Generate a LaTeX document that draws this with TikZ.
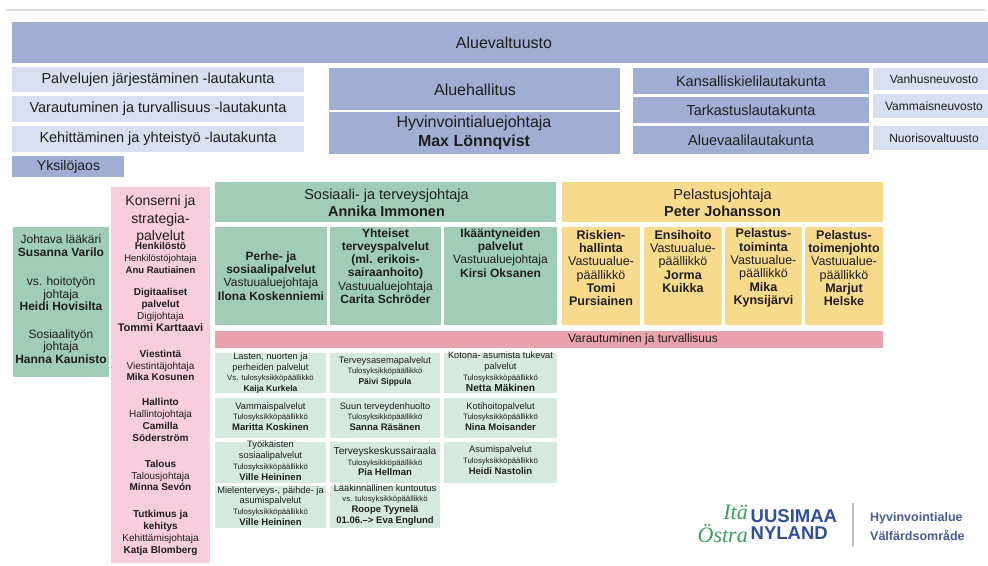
\documentclass[tikz,border=0pt]{standalone}
\usepackage{fontspec}
\setmainfont{Liberation Sans}
\newfontfamily\rkscript{Liberation Serif}
\definecolor{mper}{HTML}{A0AED3}
\definecolor{lper}{HTML}{D9DFF0}
\definecolor{grn}{HTML}{A1CDB8}
\definecolor{lgrn}{HTML}{D4EADF}
\definecolor{pnk}{HTML}{F8CEDE}
\definecolor{rpnk}{HTML}{E9A2AE}
\definecolor{yel}{HTML}{F8DA8D}
\definecolor{txtc}{HTML}{1E1E1E}
\definecolor{logoblue}{HTML}{2F4E9C}
\definecolor{logogreen}{HTML}{3E9E5E}
\definecolor{logogray}{HTML}{4A5C96}
\definecolor{topline}{HTML}{DCDCDC}
\newcommand\rkT[1]{{\fontsize{7.8}{10.8}\selectfont #1}}
\newcommand\rkN[1]{{\fontsize{9.5}{10.8}\selectfont\bfseries #1}}
\newcommand\rkNs[1]{{\fontsize{8.5}{10.8}\selectfont\bfseries #1}}
\newcommand\mybox[6]{%
  \pgfmathsetmacro\rkbw{#5-#3}\pgfmathsetmacro\rkbh{#6-#4}%
  \node[boxs, fill=#2, minimum width=\rkbw pt, minimum height=\rkbh pt] (#1) at (#3,#4) {};}
\begin{document}
\begin{tikzpicture}[x=1pt,y=-1pt,
  boxs/.style={anchor=north west, inner sep=0pt, outer sep=0pt, draw=none},
  t/.style={inner sep=0pt, outer sep=0pt, align=center, text=txtc},
  f16/.style={font=\fontsize{16}{19}\selectfont},
  f145/.style={font=\fontsize{14.5}{17}\selectfont},
  f14/.style={font=\fontsize{14}{17.5}\selectfont},
  f12/.style={font=\fontsize{12}{12.5}\selectfont},
  f12b/.style={font=\fontsize{12}{13.2}\selectfont},
  f125/.style={font=\fontsize{12.5}{13.3}\selectfont},
  fcnl/.style={font=\fontsize{12}{14}\selectfont},
  fsm/.style={font=\fontsize{9.3}{10.8}\selectfont},
  fpk/.style={font=\fontsize{10}{11.8}\selectfont}]
\useasboundingbox (0,0) rectangle (988,565);
\fill[white] (0,0) rectangle (988,565);
% top rule
\coordinate (tl0) at (6,10); \coordinate (tl1) at (985,10);
\draw[topline, line width=1.5pt] (tl0) -- (tl1);
% ---------- top boxes
\mybox{alv}{mper}{12}{22}{988}{63}
\node[t,f16] (alv-t) at (504,43) {Aluevaltuusto};
\mybox{plj}{lper}{12}{67}{304}{92}
\node[t,f145] (plj-t) at (158,80) {Palvelujen järjestäminen -lautakunta};
\mybox{vtl}{lper}{12}{96}{304}{122}
\node[t,f145] (vtl-t) at (158,109) {Varautuminen ja turvallisuus -lautakunta};
\mybox{kyl}{lper}{12}{126}{304}{152}
\node[t,f145] (kyl-t) at (158,139) {Kehittäminen ja yhteistyö -lautakunta};
\mybox{yks}{mper}{12}{156}{124}{177}
\node[t,font=\fontsize{14}{17}\selectfont] (yks-t) at (68.5,167) {Yksilöjaos};
\mybox{ahal}{mper}{329}{68}{620}{110}
\node[t,f16] (ahal-t) at (475,90) {Aluehallitus};
\mybox{hyv}{mper}{329}{112}{620}{154}
\node[t,f16] (hyv-t) at (474,133) {Hyvinvointialuejohtaja\\\textbf{Max Lönnqvist}};
\mybox{kkl}{mper}{633}{68}{869}{94}
\node[t,f145] (kkl-t) at (751,81.5) {Kansalliskielilautakunta};
\mybox{tark}{mper}{633}{97}{869}{123}
\node[t,f145] (tark-t) at (751,110) {Tarkastuslautakunta};
\mybox{avl}{mper}{633}{126}{869}{154}
\node[t,f145] (avl-t) at (751,140) {Aluevaalilautakunta};
\mybox{vanh}{lper}{873}{68}{988}{90}
\node[t,fcnl] (vanh-t) at (934,79) {Vanhusneuvosto};
\mybox{vamm}{lper}{873}{94}{988}{118}
\node[t,fcnl] (vamm-t) at (934,106) {Vammaisneuvosto};
\mybox{nuor}{lper}{873}{126}{988}{150}
\node[t,fcnl] (nuor-t) at (934,138) {Nuorisovaltuusto};
% ---------- left green box
\mybox{joht}{grn}{13}{227}{109}{377}
\node[t,f12] (joht-a) at (61,245.5) {Johtava lääkäri\\\textbf{Susanna Varilo}};
\node[t,f12] (joht-b) at (61,294) {vs. hoitotyön\\johtaja\\\textbf{Heidi Hovisilta}};
\node[t,f12] (joht-c) at (61,346.5) {Sosiaalityön\\johtaja\\\textbf{Hanna Kaunisto}};
% ---------- pink column
\mybox{pk}{pnk}{111}{187}{210}{563}
\node[t,f14] (pk-t) at (160.5,219.5) {Konserni ja\\strategia-\\palvelut};
\node[t,fpk] (pk-a) at (160.5,258) {{\fontsize{10}{11}\selectfont\bfseries Henkilöstö}\\{\fontsize{9.5}{11}\selectfont Henkilöstöjohtaja}\\{\fontsize{9.5}{11}\selectfont\bfseries Anu Rautiainen}};
\node[t,fpk] (pk-b) at (160.5,310) {\textbf{Digitaaliset}\\\textbf{palvelut}\\Digijohtaja\\{\fontsize{11}{11.8}\selectfont\bfseries Tommi Karttaavi}};
\node[t,fpk] (pk-c) at (160.5,365.5) {\textbf{Viestintä}\\Viestintäjohtaja\\\textbf{Mika Kosunen}};
\node[t,fpk] (pk-d) at (160.5,420) {\textbf{Hallinto}\\Hallintojohtaja\\\textbf{Camilla}\\\textbf{Söderström}};
\node[t,fpk] (pk-e) at (160.5,475.5) {\textbf{Talous}\\Talousjohtaja\\\textbf{Minna Sevón}};
\node[t,fpk] (pk-f) at (160.5,533) {\textbf{Tutkimus ja}\\\textbf{kehitys}\\Kehittämisjohtaja\\\textbf{Katja Blomberg}};
% ---------- social & health
\mybox{sth}{grn}{215}{182}{556}{222}
\node[t,f145] (sth-t) at (386.5,202.5) {Sosiaali- ja terveysjohtaja\\\textbf{Annika Immonen}};
\mybox{perhe}{grn}{215}{227}{327}{325}
\node[t,f12b] (perhe-t) at (271,276) {\textbf{Perhe- ja}\\\textbf{sosiaalipalvelut}\\Vastuualuejohtaja\\\textbf{Ilona Koskenniemi}};
\mybox{yht}{grn}{330}{227}{441}{325}
\node[t,f12b] (yht-t) at (385.5,266) {\textbf{Yhteiset}\\\textbf{terveyspalvelut}\\\textbf{(ml. erikois-}\\\textbf{sairaanhoito)}\\Vastuualuejohtaja\\\textbf{Carita Schröder}};
\mybox{ika}{grn}{444}{227}{557}{325}
\node[t,f12b] (ika-t) at (500.5,253) {\textbf{Ikääntyneiden}\\\textbf{palvelut}\\Vastuualuejohtaja\\\textbf{Kirsi Oksanen}};
% ---------- rescue
\mybox{pel}{yel}{562}{182}{883}{222}
\node[t,f145] (pel-t) at (722.5,202.5) {Pelastusjohtaja\\\textbf{Peter Johansson}};
\mybox{risk}{yel}{562}{227}{640}{325}
\node[t,f125] (risk-t) at (601,268) {\textbf{Riskien-}\\\textbf{hallinta}\\Vastuualue-\\päällikkö\\\textbf{Tomi}\\\textbf{Pursiainen}};
\mybox{ensi}{yel}{644}{227}{722}{325}
\node[t,f125] (ensi-t) at (683,261.5) {\textbf{Ensihoito}\\Vastuualue-\\päällikkö\\\textbf{Jorma}\\\textbf{Kuikka}};
\mybox{ptoim}{yel}{725}{227}{802}{325}
\node[t,f125] (ptoim-t) at (763.5,268) {\textbf{Pelastus-}\\\textbf{toiminta}\\Vastuualue-\\päällikkö\\\textbf{Mika}\\\textbf{Kynsijärvi}};
\mybox{pjoh}{yel}{805}{227}{883}{325}
\node[t,f125] (pjoh-t) at (844,268) {\textbf{Pelastus-}\\\textbf{toimenjohto}\\Vastuualue-\\päällikkö\\\textbf{Marjut}\\\textbf{Helske}};
% ---------- pink bar
\mybox{vtbar}{rpnk}{215}{331}{883}{348}
\node[t,font=\fontsize{12}{14}\selectfont,anchor=west] (vtbar-t) at (568,339.5) {Varautuminen ja turvallisuus};
% ---------- small boxes
\mybox{s11}{lgrn}{215}{353}{326}{393}
\node[t,fsm] (s11-t) at (270.5,373) {Lasten, nuorten ja\\perheiden palvelut\\\rkT{Vs. tulosyksikköpäällikkö}\\\rkNs{Kaija Kurkela}};
\mybox{s12}{lgrn}{330}{353}{440}{393}
\node[t,fsm] (s12-t) at (385,371.5) {Terveysasemapalvelut\\\rkT{Tulosyksikköpäällikkö}\\\rkNs{Päivi Sippula}};
\mybox{s13}{lgrn}{444}{353}{557}{393}
\node[t,fsm] (s13-t) at (500.5,371.5) {Kotona- asumista tukevat\\palvelut\\\rkT{Tulosyksikköpäällikkö}\\{\fontsize{10.2}{10.8}\selectfont\bfseries Netta Mäkinen}};
\mybox{s21}{lgrn}{215}{398}{326}{438}
\node[t,fsm] (s21-t) at (270.5,416.5) {Vammaispalvelut\\\rkT{Tulosyksikköpäällikkö}\\\rkN{Maritta Koskinen}};
\mybox{s22}{lgrn}{330}{398}{440}{438}
\node[t,fsm] (s22-t) at (385,416.5) {Suun terveydenhuolto\\\rkT{Tulosyksikköpäällikkö}\\\rkN{Sanna Räsänen}};
\mybox{s23}{lgrn}{444}{398}{557}{438}
\node[t,fsm] (s23-t) at (500.5,416.5) {Kotihoitopalvelut\\\rkT{Tulosyksikköpäällikkö}\\\rkN{Nina Moisander}};
\mybox{s31}{lgrn}{215}{442}{326}{483}
\node[t,fsm] (s31-t) at (270.5,460.5) {Työikäisten\\sosiaalipalvelut\\\rkT{Tulosyksikköpäällikkö}\\\rkN{Ville Heininen}};
\mybox{s32}{lgrn}{330}{442}{440}{483}
\node[t,fsm] (s32-t) at (385,461.5) {{\fontsize{10.2}{10.8}\selectfont Terveyskeskussairaala}\\\rkT{Tulosyksikköpäällikkö}\\\rkN{Pia Hellman}};
\mybox{s33}{lgrn}{444}{442}{557}{483}
\node[t,fsm] (s33-t) at (500.5,460) {Asumispalvelut\\\rkT{Tulosyksikköpäällikkö}\\\rkN{Heidi Nastolin}};
\mybox{s41}{lgrn}{215}{486}{326}{528}
\node[t,fsm] (s41-t) at (270.5,506) {Mielenterveys-, päihde- ja\\asumispalvelut\\\rkT{Tulosyksikköpäällikkö}\\\rkN{Ville Heininen}};
\mybox{s42}{lgrn}{330}{486}{440}{528}
\node[t,fsm] (s42-t) at (385,505) {Lääkinnällinen kuntoutus\\\rkT{vs. tulosyksikköpäällikkö}\\\rkN{Roope Tyynelä}\\\rkN{01.06.–> Eva Englund}};
% ---------- logo
\node[inner sep=0pt, anchor=east, text=logogreen, font=\rkscript\itshape\fontsize{22}{24}\selectfont] (lg-ita) at (748,512) {Itä};
\node[inner sep=0pt, anchor=east, text=logogreen, font=\rkscript\itshape\fontsize{22}{24}\selectfont] (lg-ostra) at (748,533) {Östra};
\node[inner sep=0pt, anchor=west, text=logoblue, font=\fontsize{18.5}{20}\selectfont\bfseries] (lg-uus) at (750.5,516.5) {UUSIMAA};
\node[inner sep=0pt, anchor=west, text=logoblue, font=\fontsize{18.5}{20}\selectfont\bfseries] (lg-nyl) at (750.5,533.5) {NYLAND};
\coordinate (lg-l0) at (853,503); \coordinate (lg-l1) at (853,547);
\draw[black!25, line width=1.2pt] (lg-l0) -- (lg-l1);
\node[inner sep=0pt, anchor=west, text=logogray, font=\fontsize{12.5}{14}\selectfont\bfseries] (lg-hyv) at (870,518) {Hyvinvointialue};
\node[inner sep=0pt, anchor=west, text=logogray, font=\fontsize{12.5}{14}\selectfont\bfseries] (lg-val) at (870,535) {Välfärdsområde};
\end{tikzpicture}
\end{document}
